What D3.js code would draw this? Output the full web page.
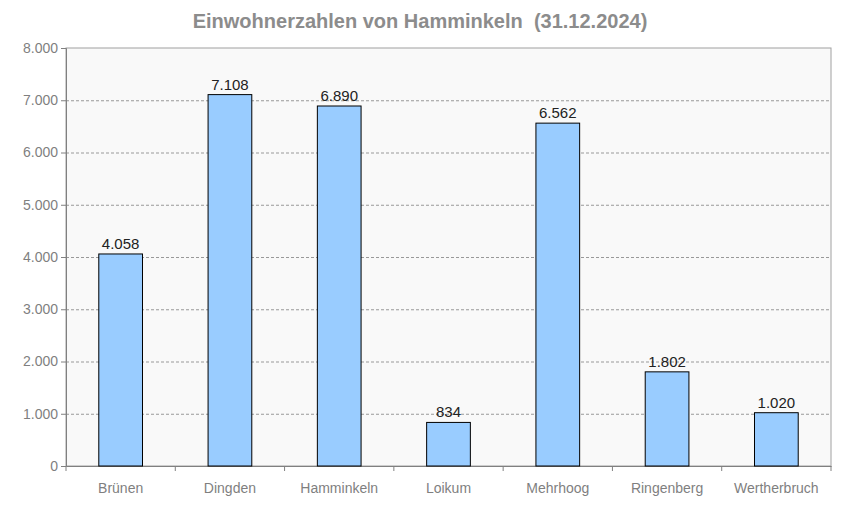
<!DOCTYPE html>
<html><head><meta charset="utf-8">
<script src="https://cdn.jsdelivr.net/npm/d3@7"></script>
<style>body{margin:0;background:#fff}svg{font-family:Arial,"Liberation Sans",sans-serif}</style>
</head><body>
<script>
var categories = ['Brünen', 'Dingden', 'Hamminkeln', 'Loikum', 'Mehrhoog', 'Ringenberg', 'Wertherbruch'];
var values = [4058, 7108, 6890, 834, 6562, 1802, 1020];
var yTicks = [0, 1000, 2000, 3000, 4000, 5000, 6000, 7000, 8000];
var title = 'Einwohnerzahlen von Hamminkeln  (31.12.2024)';

var W = 841, H = 506;
var m = {l: 66, r: 10, t: 48, b: 40};
var fmt = function(v) { return d3.format(',')(v).replace(/,/g, '.'); };

var svg = d3.select('body').append('svg').attr('width', W).attr('height', H);

var x = d3.scaleBand().domain(categories).range([m.l, W - m.r]);
var y = d3.scaleLinear().domain([0, 8000]).range([H - m.b, m.t]);

svg.append('rect')
  .attr('x', m.l).attr('y', m.t)
  .attr('width', W - m.r - m.l).attr('height', H - m.b - m.t)
  .attr('fill', '#f9f9f9').attr('stroke', '#a0a0a0');

svg.selectAll('.grid').data(yTicks.slice(1, -1)).enter().append('line')
  .attr('x1', m.l).attr('x2', W - m.r)
  .attr('y1', function(d) { return y(d) + 0.5; }).attr('y2', function(d) { return y(d) + 0.5; })
  .attr('stroke', '#999').attr('stroke-dasharray', '3,2');

var yAxis = svg.append('g').attr('transform', 'translate(' + m.l + ',0)')
  .call(d3.axisLeft(y).tickValues(yTicks).tickFormat(fmt).tickSize(5));
yAxis.select('.domain').attr('stroke', '#808080');
yAxis.selectAll('line').attr('stroke', '#808080');
yAxis.selectAll('text').attr('fill', '#7f7f7f').style('font-size', '14px');

var xAxis = svg.append('g').attr('transform', 'translate(0,' + (H - m.b) + ')')
  .call(d3.axisBottom(x).tickSize(0).tickPadding(17));
xAxis.select('.domain').attr('stroke', '#808080');
xAxis.selectAll('text').attr('fill', '#7f7f7f').style('font-size', '14px');

// tick marks between categories
svg.selectAll('.xt').data(d3.range(categories.length + 1)).enter().append('line')
  .attr('x1', function(i) { return m.l + i * x.step(); })
  .attr('x2', function(i) { return m.l + i * x.step(); })
  .attr('y1', H - m.b).attr('y2', H - m.b + 5)
  .attr('stroke', '#808080');

var bw = x.bandwidth() * 0.4;
svg.selectAll('.bar').data(values).enter().append('rect')
  .attr('x', function(d, i) { return x(categories[i]) + (x.bandwidth() - bw) / 2; })
  .attr('y', function(d) { return y(d); })
  .attr('width', bw)
  .attr('height', function(d) { return y(0) - y(d); })
  .attr('fill', '#99ccff').attr('stroke', '#000');

svg.selectAll('.lbl').data(values).enter().append('text')
  .attr('x', function(d, i) { return x(categories[i]) + x.bandwidth() / 2; })
  .attr('y', function(d) { return y(d) - 5; })
  .attr('text-anchor', 'middle').style('font-size', '15px').attr('fill', '#222')
  .text(fmt);

svg.append('text').attr('x', 420).attr('y', 28).attr('text-anchor', 'middle')
  .style('font-size', '20px').style('font-weight', 'bold').style('white-space', 'pre')
  .attr('fill', '#8c8c8c')
  .text(title);
</script>
</body></html>
